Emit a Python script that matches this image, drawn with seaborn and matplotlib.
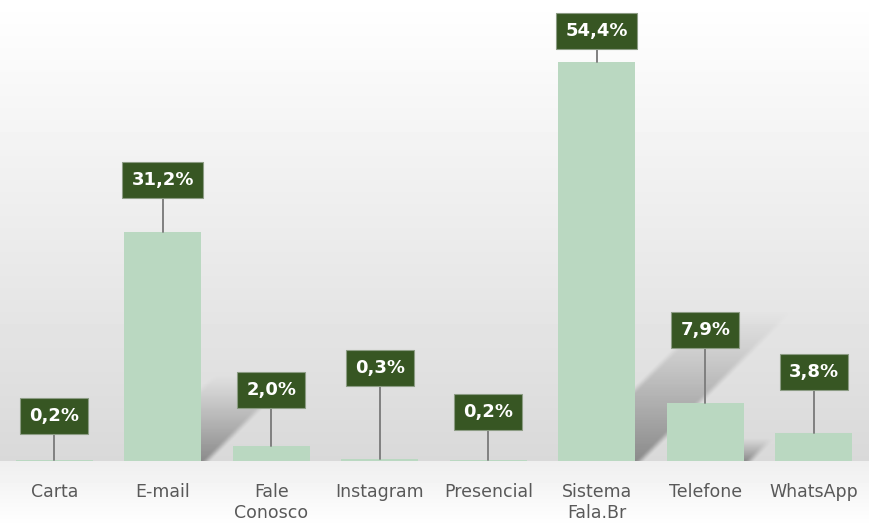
import numpy as np
import matplotlib
matplotlib.use("Agg")
import matplotlib.pyplot as plt
import seaborn as sns

# Data
canais = ["Carta", "E-mail", "Fale\nConosco", "Instagram", "Presencial",
          "Sistema\nFala.Br", "Telefone", "WhatsApp"]
percentuais = [0.2, 31.2, 2.0, 0.3, 0.2, 54.4, 7.9, 3.8]
rotulos = ["0,2%", "31,2%", "2,0%", "0,3%", "0,2%", "54,4%", "7,9%", "3,8%"]

# label box heights (data units), placed by hand like in the original
label_y = [6.1, 38.3, 9.7, 12.7, 6.7, 58.7, 17.9, 12.1]

sns.set_theme(style="white")
plt.rcParams['font.family'] = ['DejaVu Sans']

fig = plt.figure(figsize=(8.69, 5.28), dpi=100)

# background gradient
bg = fig.add_axes([0, 0, 1, 1], zorder=0)
rows = np.linspace(0, 528, 528)
vals = np.where(rows <= 461,
                1.0 - 0.15 * (rows / 461),
                0.935 + 0.065 * ((rows - 461) / 67))
grad = np.repeat(vals[:, None], 10, axis=1)
bg.imshow(grad, cmap="gray", vmin=0, vmax=1, aspect="auto",
          extent=[0, 1, 0, 1])
bg.axis("off")

ax = fig.add_axes([0.0, 67 / 528, 868 / 869, 461 / 528], zorder=1)
ax.patch.set_alpha(0)

sns.barplot(x=canais, y=percentuais, color="#bad8c1", width=0.71,
            saturation=1, linewidth=0, ax=ax, zorder=3)


def smooth(a):
    a = np.clip(a, 0, 1)
    return a * a * (3 - 2 * a)


# soft perspective shadows (skewed copy of the bar, fading upward)
sx, sy = 108.0, 7.33
for i, v in enumerate(percentuais):
    if v < 5:
        continue
    h = 0.38 * v
    shift = h * sy / sx
    xl, xr = i - 0.355, i + 0.355
    x0, x1 = xl, xr + shift + 0.15
    xs = np.linspace(x0, x1, 300)
    ys = np.linspace(0, h, 150)
    X, Y = np.meshgrid(xs, ys)
    t = Y / h
    u = X - t * shift
    edge = 0.1
    mask = smooth((u - xl) / edge) * smooth((xr + edge - u) / edge)
    a = 0.36 * mask * (1 - t) ** 1.1
    img = np.zeros(X.shape + (4,))
    img[..., 3] = a
    ax.imshow(img, extent=[x0, x1, 0, h], origin="lower", aspect="auto",
              interpolation="bilinear", zorder=2)

ax.set_xlim(-0.5, 7.5)
ax.set_ylim(0, 62.9)

# labels with leader lines
for i, (v, txt, ly) in enumerate(zip(percentuais, rotulos, label_y)):
    ax.plot([i, i], [v, ly], color="#808080", lw=1.4, zorder=4)
    ax.text(i, ly, txt, ha="center", va="center", color="white",
            fontsize=13, fontweight="bold", zorder=5,
            bbox=dict(boxstyle="square,pad=0.5", facecolor="#375623",
                      edgecolor="#8c9c84", linewidth=0.8))

sns.despine(ax=ax, left=True, bottom=True)
ax.set_yticks([])
ax.set_xlabel("")
ax.set_ylabel("")
ax.tick_params(axis="x", length=0, pad=16, labelsize=12.5, labelcolor="#595959")
ax.grid(False)

fig.savefig("out.png", dpi=100)
